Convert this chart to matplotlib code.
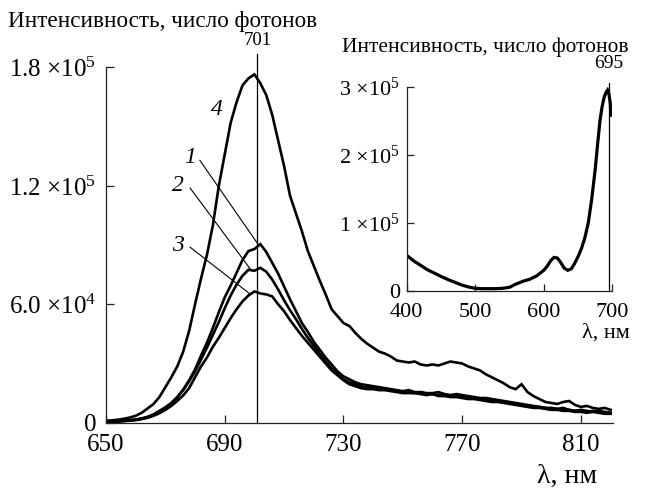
import numpy as np
import matplotlib
matplotlib.use("Agg")
import matplotlib.pyplot as plt
from matplotlib.ticker import FixedLocator, FixedFormatter

plt.rcParams["font.family"] = ["Liberation Serif", "DejaVu Serif"]
plt.rcParams["mathtext.fontset"] = "custom"
plt.rcParams["mathtext.rm"] = "Liberation Serif"
plt.rcParams["mathtext.it"] = "Liberation Serif:italic"

# ---- main spectra: wavelength (nm) and intensity (thousands of photons) ----
wl = np.arange(650, 821, 2)

curve1 = [0.5, 0.6, 0.8, 1.0, 1.3, 1.6, 2.2, 3.0, 4.2, 6.0, 7.8, 10.0, 13.0, 16.8, 21.5,
          27.0, 34.0, 40.5, 48.0, 56.0, 63.5, 69.5, 76.0, 82.5, 87.0, 88.0, 90.5, 86.5,
          81.0, 75.5, 69.0, 62.5, 56.5, 50.5, 46.0, 41.0, 37.0, 33.0, 29.5, 26.0, 23.5,
          22.0, 20.5, 19.5, 19.0, 18.5, 18.0, 17.5, 17.0, 16.5, 16.0, 16.5, 15.5, 15.5,
          15.0, 15.0, 15.5, 14.5, 14.0, 14.5, 14.0, 13.5, 13.0, 12.5, 12.5, 12.0, 11.5,
          11.0, 10.5, 10.0, 9.5, 9.0, 8.5, 8.0, 7.5, 7.5, 7.0, 7.5, 6.5, 6.0, 6.5, 6.0,
          5.5, 6.0, 5.5, 5.0]

curve2 = [0.4, 0.5, 0.7, 0.9, 1.2, 1.5, 2.0, 2.8, 4.0, 5.6, 7.5, 9.8, 12.8, 16.5, 21.0,
          26.0, 32.0, 38.0, 44.5, 51.0, 58.0, 64.5, 70.0, 74.5, 77.5, 77.0, 78.5, 76.5,
          72.5, 67.5, 62.0, 57.0, 52.5, 47.5, 43.0, 39.0, 35.0, 31.0, 27.5, 24.5, 22.0,
          20.5, 19.5, 18.5, 18.0, 17.5, 17.5, 17.0, 16.5, 16.0, 15.5, 15.5, 15.0, 15.5,
          14.5, 14.5, 14.0, 14.5, 13.5, 13.5, 13.0, 13.0, 12.5, 12.0, 11.5, 11.0, 11.0,
          10.5, 10.0, 9.5, 9.0, 8.5, 8.0, 8.0, 7.5, 7.0, 7.0, 6.5, 6.5, 6.0, 6.0, 5.5,
          6.0, 5.5, 5.0, 5.0]

curve3 = [0.3, 0.4, 0.6, 0.8, 1.0, 1.3, 1.8, 2.5, 3.5, 4.8, 6.5, 8.5, 11.0, 13.8, 17.5,
          23.0, 28.5, 33.0, 38.5, 43.0, 48.0, 53.0, 57.5, 61.5, 64.5, 66.5, 65.5, 65.0,
          64.0, 60.0, 56.5, 52.0, 48.0, 44.0, 40.5, 37.0, 33.5, 30.0, 26.5, 24.0, 21.5,
          19.5, 18.5, 17.5, 17.0, 17.0, 16.5, 16.5, 16.0, 15.5, 15.0, 15.0, 15.0, 14.5,
          14.0, 14.5, 13.5, 13.5, 13.0, 13.0, 12.5, 12.0, 12.0, 11.5, 11.0, 10.5, 10.5,
          10.0, 9.5, 9.0, 8.5, 8.0, 7.5, 7.5, 7.0, 6.5, 6.5, 6.0, 6.0, 5.5, 5.5, 5.0,
          5.5, 5.0, 4.5, 4.5]

curve4 = [1.0, 1.2, 1.5, 2.0, 2.6, 3.5, 5.0, 7.2, 9.5, 13.0, 18.0, 23.0, 28.5, 36.0, 46.5,
          60.0, 73.0, 85.0, 100.0, 120.0, 136.0, 152.0, 162.5, 171.0, 174.5, 176.5, 172.0,
          166.0, 156.0, 143.0, 130.0, 115.0, 106.0, 97.0, 87.0, 79.5, 72.0, 65.0, 57.5,
          54.0, 50.5, 49.0, 45.5, 42.5, 40.0, 38.0, 36.0, 35.0, 33.5, 31.5, 31.0, 30.5,
          31.0, 29.5, 29.0, 29.5, 29.0, 30.0, 31.0, 30.5, 30.0, 28.5, 27.5, 26.5, 24.5,
          23.0, 21.5, 20.0, 18.0, 17.0, 19.5, 15.5, 13.5, 12.0, 10.5, 10.0, 9.5, 10.5,
          11.0, 9.0, 8.0, 8.5, 7.5, 7.0, 7.5, 6.5]

main_peak = 701
main_xticks = [650, 690, 730, 770, 810]
main_yticks = [0, 6.0e4, 1.2e5, 1.8e5]
main_yticklabels = ["0", "6.0 \u00d7$10^{4}$", "1.2 \u00d7$10^{5}$", "1.8 \u00d7$10^{5}$"]
curve_names = ["1", "2", "3", "4"]

# ---- inset spectrum: wavelength (nm) and intensity (thousands of photons) ----
inset_wl = [400, 410, 420, 430, 440, 450, 460, 470, 480, 490, 500, 510, 520, 530, 540,
            550, 560, 570, 580, 590, 600, 605, 610, 615, 620, 625, 630, 635, 640, 645,
            650, 655, 660, 665, 670, 675, 679, 682, 685, 688, 691, 693, 695, 697, 698]
inset_int = [52, 44, 37.5, 31, 26, 21, 16.5, 12.5, 8.5, 5.5, 3.5, 3, 3, 3, 3.5,
             5, 10, 14, 17, 22, 30, 36, 44, 49, 48, 41, 33, 30, 32, 40,
             50, 62, 78, 100, 135, 178, 220, 250, 270, 284, 292, 295, 290, 276, 258]
inset_peak = 695
inset_xticks = [400, 500, 600, 700]
inset_yticks = [0, 1e5, 2e5, 3e5]
inset_yticklabels = ["0", "1 \u00d7$10^{5}$", "2 \u00d7$10^{5}$", "3 \u00d7$10^{5}$"]

title_text = "Интенсивность, число фотонов"
xlabel_text = "\u03bb, нм"

ink = "black"
axis_color = "#222222"

fig = plt.figure(figsize=(6.46, 4.88), dpi=100)
W, H = 646.0, 488.0

# ---------------- main axes ----------------
ax = fig.add_axes([106 / W, 65.3 / H, (612.7 - 106) / W, (420.5 - 65.3) / H])
for y in (curve1, curve2, curve3, curve4):
    ax.plot(wl, np.array(y) * 1e3, color=ink, lw=1.9, solid_joinstyle="miter")
ax.set_xlim(650, 820.7)
ax.set_ylim(0, 1.8e5)
ax.plot([main_peak, main_peak], [0, 1.866e5], color=ink, lw=0.9, clip_on=False)
ax.text(main_peak, 1.895e5, str(main_peak), ha="center", va="bottom", fontsize=13.5)

for s in ("top", "right"):
    ax.spines[s].set_visible(False)
for s in ("left", "bottom"):
    ax.spines[s].set_color(axis_color)
    ax.spines[s].set_linewidth(0.9)
ax.xaxis.set_major_locator(FixedLocator(main_xticks))
ax.yaxis.set_major_locator(FixedLocator(main_yticks))
ax.yaxis.set_major_formatter(FixedFormatter(main_yticklabels))
ax.tick_params(direction="in", length=6, width=0.9, color=axis_color,
               labelsize=18)
ax.tick_params(axis="x", pad=8)
ax.tick_params(axis="y", pad=7)

# curve numbers with leader lines
lbl_kw = dict(fontsize=17, style="italic", ha="center", va="center")
ax.text(687.4, 158.5e3, curve_names[3], **lbl_kw)
ax.text(678.3, 134.5e3, curve_names[0], **lbl_kw)
ax.text(674.3, 120.0e3, curve_names[1], **lbl_kw)
ax.text(674.3, 90.0e3, curve_names[2], **lbl_kw)
ax.annotate("", xy=(701.2, max(curve1) * 1e3), xytext=(681.6, 133e3),
            arrowprops=dict(arrowstyle="-", color=ink, lw=0.8, shrinkA=0, shrinkB=0))
ax.annotate("", xy=(698.8, max(curve2) * 1e3 - 1e3), xytext=(678.3, 119e3),
            arrowprops=dict(arrowstyle="-", color=ink, lw=0.8, shrinkA=0, shrinkB=0))
ax.annotate("", xy=(698.3, max(curve3) * 1e3 - 1e3), xytext=(678.3, 89e3),
            arrowprops=dict(arrowstyle="-", color=ink, lw=0.8, shrinkA=0, shrinkB=0))

fig.text(8 / W, 1 - 27 / H, title_text, fontsize=16.7, ha="left", va="baseline")
fig.text(597 / W, 1 - 483 / H, xlabel_text, fontsize=20, ha="right", va="baseline")

# ---------------- inset axes ----------------
ins = fig.add_axes([406.7 / W, (H - 290.7) / H, (612.3 - 406.7) / W, (290.7 - 86.7) / H])
ins.patch.set_alpha(0)
ins.plot(inset_wl, np.array(inset_int) * 1e3, color=ink, lw=2.3, solid_joinstyle="miter")
ins.set_xlim(400, 700)
ins.set_ylim(0, 3e5)
ins.plot([inset_peak, inset_peak], [0, 3.05e5], color=ink, lw=0.9, clip_on=False)
ins.text(inset_peak, 3.27e5, str(inset_peak), ha="center", va="baseline", fontsize=14)
for s in ("top", "right"):
    ins.spines[s].set_visible(False)
for s in ("left", "bottom"):
    ins.spines[s].set_color(axis_color)
    ins.spines[s].set_linewidth(0.9)
ins.xaxis.set_major_locator(FixedLocator(inset_xticks))
ins.yaxis.set_major_locator(FixedLocator(inset_yticks))
ins.yaxis.set_major_formatter(FixedFormatter(inset_yticklabels))
ins.tick_params(direction="in", length=5, width=0.9, color=axis_color,
                labelsize=16)
ins.tick_params(axis="x", pad=9)
ins.tick_params(axis="y", pad=5)
fig.text(342 / W, 1 - 52 / H, title_text, fontsize=15.4, ha="left", va="baseline")
fig.text(630 / W, 1 - 338 / H, xlabel_text, fontsize=16, ha="right", va="baseline")

fig.savefig("out.png", dpi=100)
